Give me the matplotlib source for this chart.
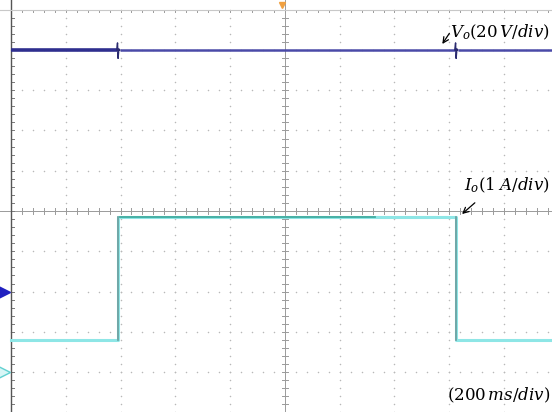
import matplotlib.pyplot as plt
import numpy as np

plt.rcParams['font.family'] = 'DejaVu Serif'
plt.rcParams['mathtext.fontset'] = 'dejavuserif'

# scope traces, time in ms (200 ms/div)
t_vo = [0, 386, 389, 391, 394, 397, 1620, 1623, 1625, 1628, 1631, 1975]
vo = [120, 120, 123.5, 115.8, 120.5, 120, 120, 123.5, 115.8, 120.5, 120, 120]
t_io = [0, 392, 392, 1624, 1624, 1975]
io = [0.8, 0.8, 3.85, 3.85, 0.8, 0.8]

vo_scale, io_scale = 20, 1      # V/div, A/div
vo_ref, io_ref = -2, -4         # channel ground markers (div from centre)
ms_div = 200

GRID = '#b8b8b8'
AXC = '#9a9a9a'


def to_div(vals, scale, ref):
  return np.asarray(vals) / scale + ref


fig = plt.figure(figsize=(5.52, 4.12), dpi=100)
ax = fig.add_axes([0, 0, 1, 1])
ax.set_xlim(-40, 1975)
ax.set_ylim(-4.99, 5.24)
ax.axis('off')

# dotted graticule
minor_t = np.arange(0, 2001, ms_div / 5)
minor_y = np.arange(-5, 5.01, 0.2)
for k in range(1, 10):
  if k == 5:
    continue
  ax.scatter(np.full_like(minor_y, k * ms_div), minor_y, s=1.2, color=GRID, lw=0)
for k in range(-4, 5):
  if k == 0:
    continue
  ax.scatter(minor_t, np.full_like(minor_t, k), s=1.2, color=GRID, lw=0)

# centre cross with minor ticks
ax.axhline(0, color=AXC, lw=0.7)
ax.axvline(1000, color=AXC, lw=0.7)
for t in minor_t:
  ax.plot([t, t], [-0.07, 0.07], color=AXC, lw=0.7)
  ax.plot([t, t], [4.93, 5.0], color=AXC, lw=0.7)
for y in minor_y:
  ax.plot([988, 1012], [y, y], color=AXC, lw=0.7)
  ax.plot([0, 12], [y, y], color='#7a7a7a', lw=0.7)

# frame edges
ax.axvline(0, color='#555555', lw=1.0)
ax.axhline(5, color='#c8c8c8', lw=0.8)

# traces: flat parts thick, switching spikes thin
vo_div = to_div(vo, vo_scale, vo_ref)
ax.plot(t_vo[:2], vo_div[:2], color='#2f2f8f', lw=2.6, solid_capstyle='butt')
ax.plot(t_vo[5:7], vo_div[5:7], color='#4a4aa8', lw=1.8, solid_capstyle='butt')
ax.plot(t_vo[10:], vo_div[10:], color='#4a4aa8', lw=1.8, solid_capstyle='butt')
ax.plot(t_vo[1:6], vo_div[1:6], color='#2a2a70', lw=1.0)
ax.plot(t_vo[6:11], vo_div[6:11], color='#2a2a70', lw=1.0)

io_div = to_div(io, io_scale, io_ref)
ax.plot(t_io, io_div, color='#8ee6e6', lw=2.2)
ax.plot(t_io[1:3], io_div[1:3], color='#6a9c9c', lw=1.2)
ax.plot(t_io[3:5], io_div[3:5], color='#6a9c9c', lw=1.2)
ax.plot([t_io[2] + 5, 1330], [io_div[2], io_div[3]], color='#2f9e8e', lw=1.3, alpha=0.8)

# channel ground markers and trigger marker
ax.plot(-24, vo_ref, marker='>', ms=8, color='#2020c0', clip_on=False)
ax.plot(-24, io_ref, marker='>', ms=8, mfc='#d8f6f6', mec='#60d0d0', clip_on=False)
ax.plot(990, 5.12, marker='v', ms=5, color='#f0a040')

# labels
ax.annotate('', xy=(1569, 4.09), xytext=(1606, 4.47),
            arrowprops=dict(arrowstyle='->', color='black', lw=0.9))
ax.text(1967, 4.45, r'$V_o(20\,V/div)$', fontsize=12, va='center', ha='right')
ax.annotate('', xy=(1639, -0.12), xytext=(1701, 0.25),
            arrowprops=dict(arrowstyle='->', color='black', lw=0.9))
ax.text(1967, 0.64, r'$I_o(1\;A/div)$', fontsize=12, va='center', ha='right')
ax.text(1967, -4.57, r'$(200\,ms/div)$', fontsize=12, ha='right', va='center')

fig.savefig('out.png', dpi=100)
